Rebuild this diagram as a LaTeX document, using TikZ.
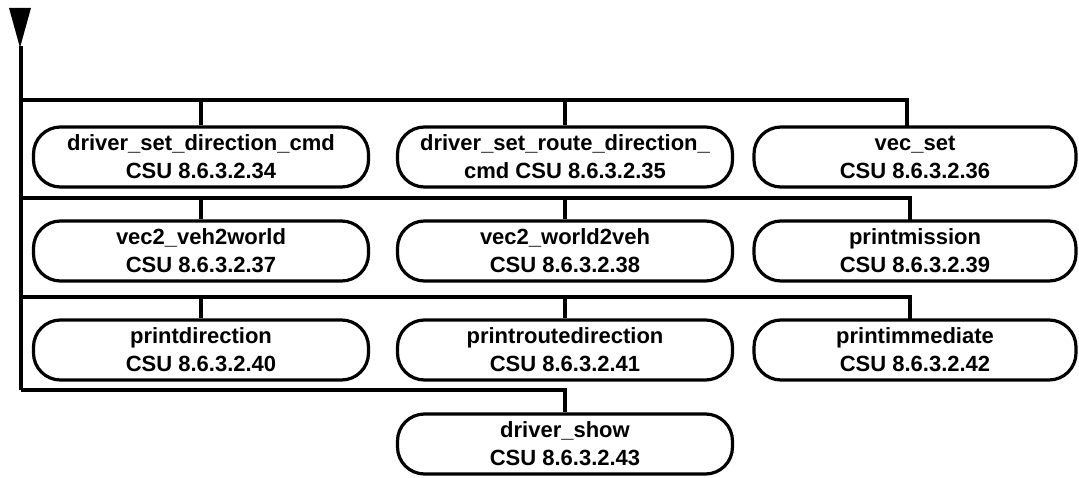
\documentclass[tikz,border=0pt]{standalone}
\usepackage{fontspec}
\setmainfont{Liberation Sans}
\usetikzlibrary{arrows.meta}
\begin{document}
\begin{tikzpicture}[x=1pt,y=-1pt,
  csu/.style={draw, line width=3.2pt, rounded corners=27pt, minimum width=335pt, minimum height=60pt,
    align=center, inner sep=0pt, font=\bfseries\fontsize{22}{28}\selectfont},
  bus/.style={line width=3.2pt}]
\useasboundingbox (0,0) rectangle (1079,478);
% nodes
\node[csu] (a34) at (201,157) {driver\_set\_direction\_cmd\\CSU 8.6.3.2.34};
\node[csu] (a35) at (565,157) {driver\_set\_route\_direction\_\\cmd CSU 8.6.3.2.35};
\node[csu, minimum width=322pt] (a36) at (915,157) {vec\_set\\CSU 8.6.3.2.36};
\node[csu] (a37) at (201,251) {vec2\_veh2world\\CSU 8.6.3.2.37};
\node[csu] (a38) at (565,251) {vec2\_world2veh\\CSU 8.6.3.2.38};
\node[csu, minimum width=322pt] (a39) at (915,251) {printmission\\CSU 8.6.3.2.39};
\node[csu] (a40) at (201,350) {printdirection\\CSU 8.6.3.2.40};
\node[csu] (a41) at (565,350) {printroutedirection\\CSU 8.6.3.2.41};
\node[csu, minimum width=322pt] (a42) at (915,350) {printimmediate\\CSU 8.6.3.2.42};
\node[csu] (a43) at (565,444) {driver\_show\\CSU 8.6.3.2.43};
% coordinates
\coordinate (top) at (20,8);
\coordinate (tip) at (20,48);
\coordinate (b1) at (21,100);
\coordinate (b2) at (21,198);
\coordinate (b3) at (21,297);
\coordinate (b4) at (21,390);
% arrow and trunk
\draw[bus, -{Triangle[width=21pt,length=40pt]}] (top) -- (tip);
\draw[bus] (21,46) -- (b4);
% bus row 1
\draw[bus] (b1) -- (907,100) -- (907,127);
\draw[bus] (201,100) -- (a34.north);
\draw[bus] (565,100) -- (a35.north);
% bus row 2
\draw[bus] (b2) -- (910,198) -- (910,221);
\draw[bus] (201,198) -- (a37.north);
\draw[bus] (565,198) -- (a38.north);
% bus row 3
\draw[bus] (b3) -- (910,297) -- (910,320);
\draw[bus] (201,297) -- (a40.north);
\draw[bus] (565,297) -- (a41.north);
% bus row 4
\draw[bus] (b4) -- (565,390) -- (a43.north);
\end{tikzpicture}
\end{document}
